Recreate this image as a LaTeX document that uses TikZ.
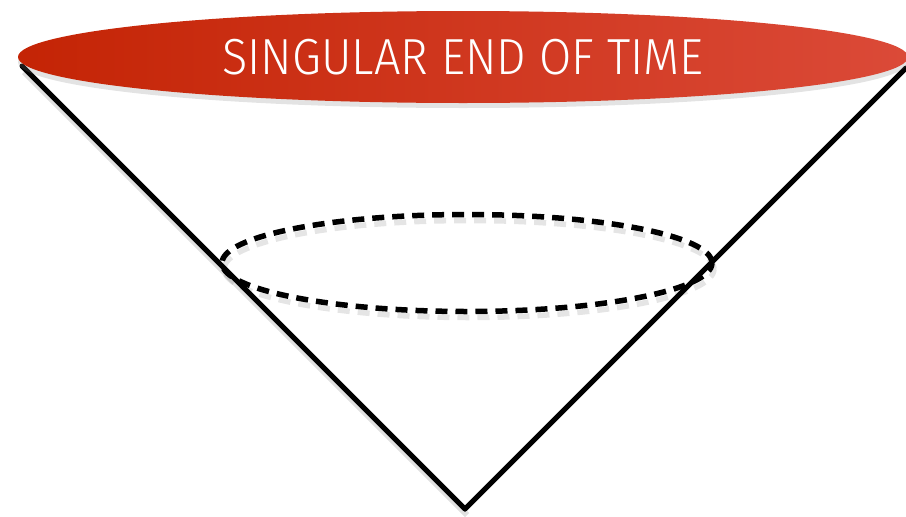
\documentclass[tikz,border=0pt]{standalone}
\usepackage{fontspec}
\setmainfont{Fira Sans Light}
\usepackage{graphicx}
\usetikzlibrary{shapes.geometric, shadows, positioning, calc}
\definecolor{endred}{HTML}{C42405}
\definecolor{endredlight}{HTML}{DB4A38}
\tikzstyle{horizon} = [ellipse, minimum width=890pt, minimum height=92pt, inner sep=0pt,
    left color=endred, right color=endredlight, draw=none, text=white,
    drop shadow={shadow xshift=0pt, shadow yshift=-5pt, opacity=0.22}]
\tikzstyle{slice} = [ellipse, minimum width=490pt, minimum height=97pt, inner sep=0pt,
    draw=black, line width=5.5pt, dash pattern=on 12pt off 8pt]
\tikzstyle{coneline} = [line width=5pt, line cap=round]
\tikzstyle{conesh} = [line width=6pt, black, opacity=0.12]

\begin{document}
\begin{tikzpicture}[x=1pt, y=-1pt]
\useasboundingbox (0,0) rectangle (906,517);
% --- apex and rim of the cone ---
\coordinate (apex) at (465,509);
\coordinate (lefttip) at (22,66);
\coordinate (righttip) at (906,68);

% --- dashed cross-section ---
\node (crossshadow) [slice, draw=black, opacity=0.1] at (469,269) {};
\node (cross) [slice] at (467,263) {};

% --- cone sides ---
\draw[conesh] ($(lefttip)+(2,6)$) -- ($(apex)+(2,6)$);
\draw[coneline] (lefttip) -- (apex);
\draw[coneline] (apex) -- (righttip);

% --- singular end of time ---
\node (endtime) [horizon] at (463,57)
    {\scalebox{1.2}[1.3]{\fontsize{39}{40}\selectfont SINGULAR END OF TIME}};
\end{tikzpicture}
\end{document}
